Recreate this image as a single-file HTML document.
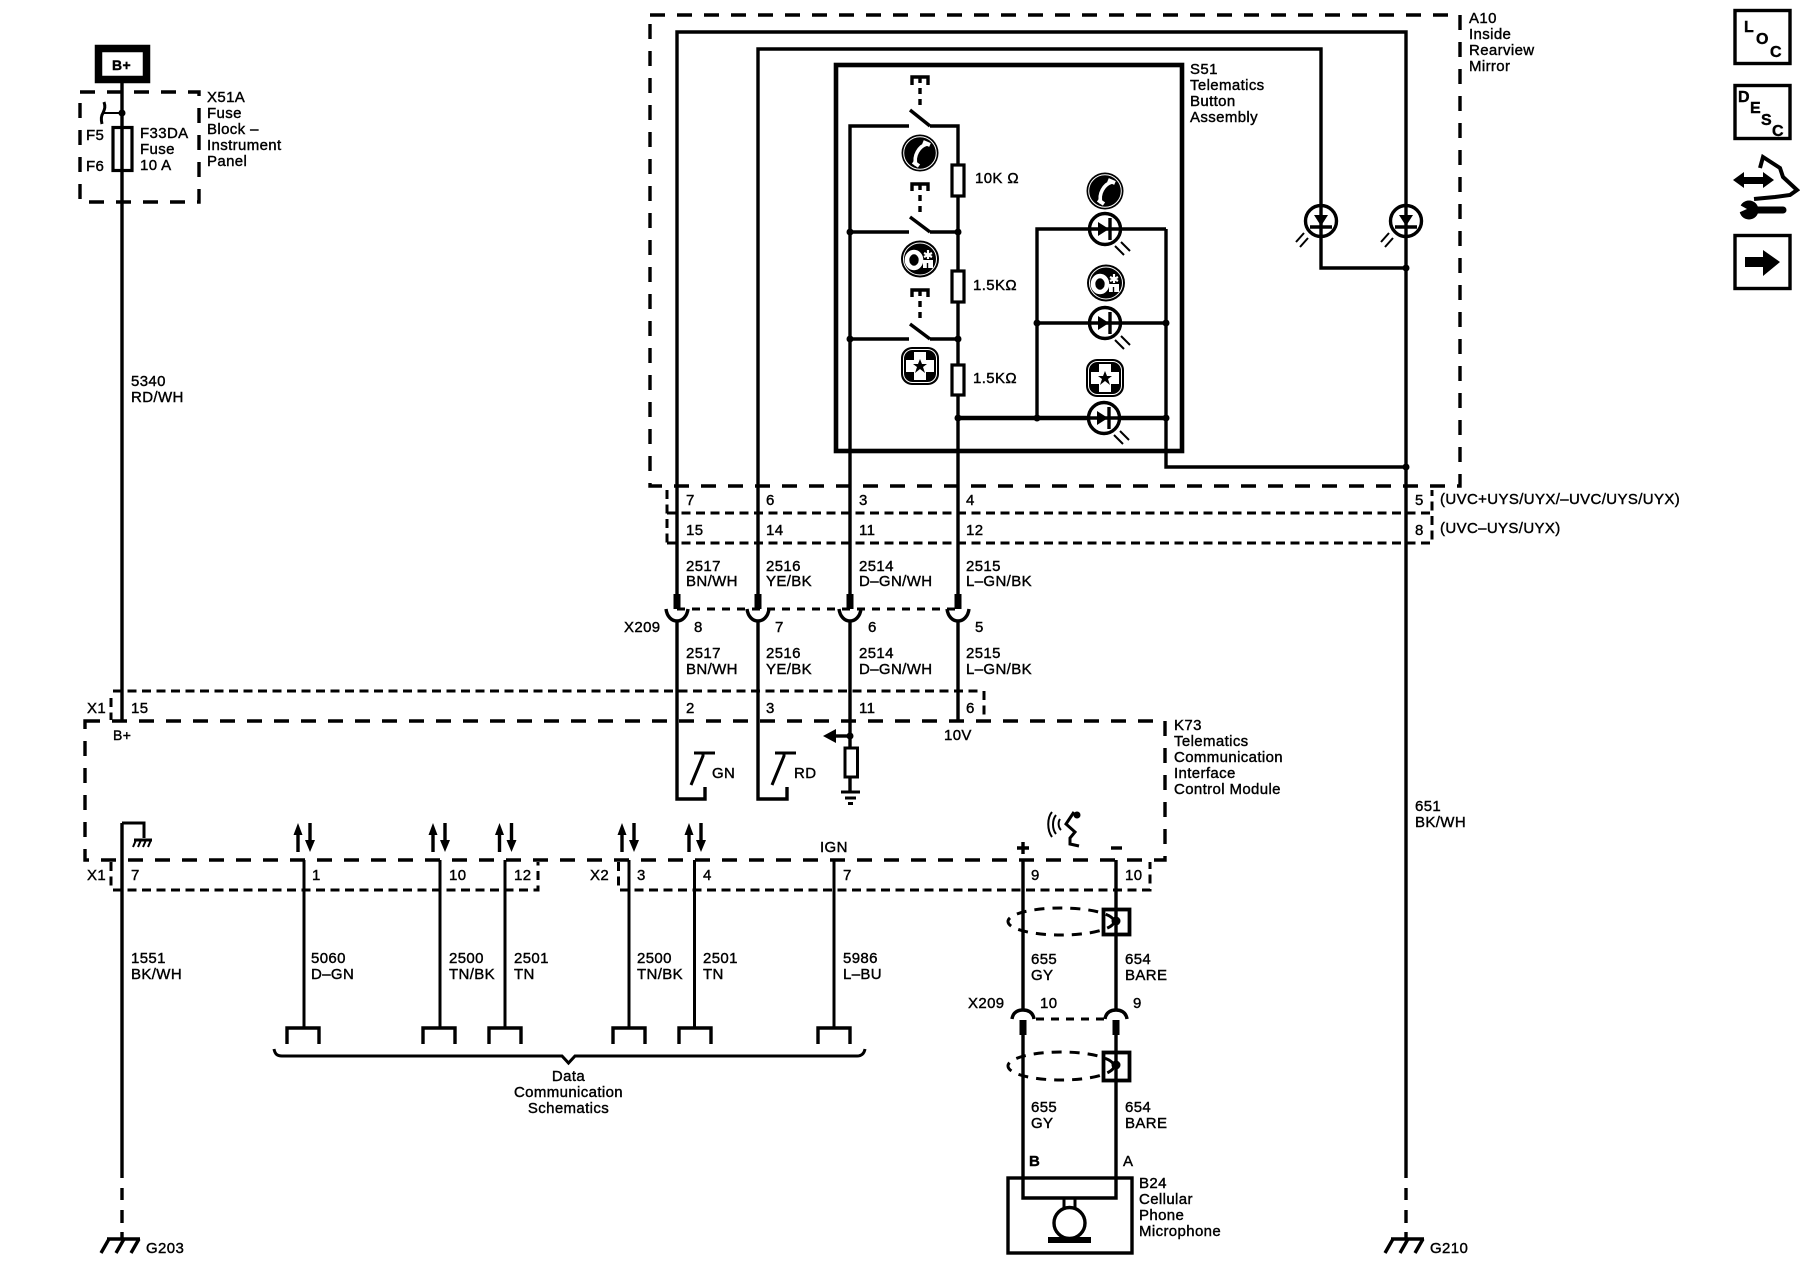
<!DOCTYPE html>
<html><head><meta charset="utf-8"><style>
html,body{margin:0;padding:0;background:#fff;width:1800px;height:1280px;overflow:hidden}
svg{display:block}
text{font-family:"Liberation Sans",sans-serif;font-size:15px;letter-spacing:.37px;fill:#000;stroke:#000;stroke-width:.4}
.w{fill:none;stroke:#000;stroke-width:3.4}
.t{fill:none;stroke:#000;stroke-width:3}
.d{fill:none;stroke:#000;stroke-width:3.4;stroke-dasharray:15 12}
.s{fill:none;stroke:#000;stroke-width:3;stroke-dasharray:9 5.5}
.r{fill:#fff;stroke:#000;stroke-width:3.2}
.n{fill:none;stroke:#000;stroke-width:2}
</style></head><body>
<svg width="1800" height="1280" viewBox="0 0 1800 1280" xmlns="http://www.w3.org/2000/svg">
<defs>
<g id="ledh"><circle r="15.5" fill="#fff" stroke="#000" stroke-width="3.4"/><path d="M-16 0H16" class="w"/><path d="M-7 -7L4 0L-7 7Z"/><path d="M5 -11V11" class="w"/><path d="M10 17L19 26M16 13L25 22" class="n"/></g>
<g id="ledv"><circle r="15.5" fill="#fff" stroke="#000" stroke-width="3.4"/><path d="M0 -16V16" class="w"/><path d="M-7 -6L0 5L7 -6Z"/><path d="M-11 6H11" class="w"/><path d="M-17 12L-25 21M-13 17L-21 26" class="n"/></g>
<g id="phone"><circle r="18.5"/><circle r="16.3" fill="none" stroke="#fff" stroke-width="1"/><path d="M7 -9C-1 -7 -7 3 -4 12" fill="none" stroke="#fff" stroke-width="3.6"/><path d="M3 -11L10 -8M-7 9L-1 13" stroke="#fff" stroke-width="4"/></g>
<g id="onstar"><ellipse rx="19" ry="18.5"/><ellipse rx="16.5" ry="16" fill="none" stroke="#fff" stroke-width="1"/><ellipse cx="-6" cy="1" rx="7" ry="8" fill="none" stroke="#fff" stroke-width="4.6"/><path d="M3 9V1H13V9Z" fill="#fff"/><path d="M7.500 9V4" stroke="#000" stroke-width="1.400"/><path d="M8 -9V0M4 -6L12 -2M12 -6L4 -2" stroke="#fff" stroke-width="2.200" fill="none"/></g>
<g id="star"><rect x="-19" y="-19" width="38" height="38" rx="11"/><rect x="-16.5" y="-16.5" width="33" height="33" rx="9" fill="none" stroke="#fff" stroke-width="1"/><path d="M-6 -14H6V-6H14V6H6V14H-6V6H-14V-6H-6Z" fill="#fff"/><path d="M0 -7L2 -2H7L3 1L5 7L0 3L-5 7L-3 1L-7 -2H-2Z"/></g>
<g id="gnd"><path d="M-15 0H18" class="w"/><path d="M-13 0L-21 14M2 0L-6 14M17 0L9 14" class="w"/></g>
<g id="cap"><path d="M-16 16V0H16V16" class="w"/></g>
<g id="ud"><path d="M-6 29V8" class="w"/><path d="M-6 0L-10.500 12H-1.500Z"/><path d="M6 0V20" class="w"/><path d="M1 17H11L6 29Z"/></g>
</defs>

<!-- top right nav -->
<rect x="1735" y="10.500" width="55" height="53" fill="none" stroke="#000" stroke-width="3.400"/>
<rect x="1735" y="85.500" width="55" height="53" fill="none" stroke="#000" stroke-width="3.400"/>
<rect x="1735" y="235.500" width="55" height="53" fill="none" stroke="#000" stroke-width="3.400"/>
<text x="1744" y="32" font-weight="bold" style="font-size:16px">L</text><text x="1756" y="44" font-weight="bold" style="font-size:16px">O</text><text x="1770" y="57" font-weight="bold" style="font-size:16px">C</text>
<text x="1738" y="102" font-weight="bold" style="font-size:16px">D</text><text x="1750" y="113" font-weight="bold" style="font-size:16px">E</text><text x="1761" y="125" font-weight="bold" style="font-size:16px">S</text><text x="1772" y="136" font-weight="bold" style="font-size:16px">C</text>
<path d="M1745 257H1763V250L1780 262L1763 276V267H1745Z"/>
<path d="M1733 180L1744 172V177H1763V172L1774 180L1763 188V184H1744V188Z"/>
<path d="M1760 168L1763 157L1780 168L1783 177L1797 190L1790 195L1775 197L1754 199" fill="none" stroke="#000" stroke-width="4"/>
<path d="M1752 210H1783" stroke="#000" stroke-width="7" stroke-linecap="round"/><circle cx="1749" cy="210" r="9.500"/><path d="M1738 204L1747 209L1738 213Z" fill="#fff"/>

<!-- left: B+ and fuse -->
<rect x="98.500" y="48.500" width="48" height="31" fill="none" stroke="#000" stroke-width="7.500"/>
<text x="112" y="70" font-weight="bold" style="font-size:14px">B+</text>
<path d="M122 83V720" class="w"/>
<path d="M122 823V1178" class="w"/>
<path d="M122 1188V1200M122 1210V1223M122 1232V1240" class="w"/>
<rect x="80" y="92" width="119" height="110" class="d"/>
<path d="M102 113H122" class="n"/><circle cx="122" cy="113" r="3.500"/><path d="M104 102C106 108 104 110 103 113C101 116 101 120 102 124" class="t"/>
<rect x="113" y="127.500" width="19" height="43" fill="none" stroke="#000" stroke-width="3.200"/>
<text x="86" y="140">F5</text><text x="86" y="171">F6</text>
<text x="140" y="138">F33DA</text><text x="140" y="154">Fuse</text><text x="140" y="170">10 A</text>
<text x="207" y="102">X51A</text><text x="207" y="118">Fuse</text><text x="207" y="134">Block –</text><text x="207" y="150">Instrument</text><text x="207" y="166">Panel</text>
<text x="131" y="386">5340</text><text x="131" y="402">RD/WH</text>

<!-- A10 -->
<rect x="650" y="15" width="810" height="471" class="d"/>
<text x="1469" y="23">A10</text><text x="1469" y="39">Inside</text><text x="1469" y="55">Rearview</text><text x="1469" y="71">Mirror</text>
<path d="M677 594V32H1406V1178" class="w"/>
<path d="M758 594V49H1321V268H1406" class="w"/>
<path d="M1406 1188V1200M1406 1210V1223M1406 1232V1240" class="w"/>
<circle cx="1406" cy="268" r="3.500"/>
<use href="#ledv" x="1321" y="221"/><use href="#ledv" x="1406" y="221"/>

<!-- S51 -->
<rect x="836" y="65" width="346" height="386" fill="none" stroke="#000" stroke-width="4.600"/>
<text x="1190" y="74">S51</text><text x="1190" y="90">Telematics</text><text x="1190" y="106">Button</text><text x="1190" y="122">Assembly</text>
<path d="M850 594V126H909M930 126H958V594" class="w"/>
<path d="M850 232H909M930 232H958M850 339H909M930 339H958" class="w"/>
<path d="M910 110L930 126M910 217L930 232M910 324L930 339" class="w"/>
<path d="M912 85V77H928V85M912 191V184H928V191M912 297V290H928V297" class="w"/>
<path d="M920 77V108M920 184V215M920 290V322" class="w" stroke-dasharray="6 5"/>
<g fill="#000"><circle cx="850" cy="232" r="3.500"/><circle cx="958" cy="232" r="3.500"/><circle cx="850" cy="339" r="3.500"/><circle cx="958" cy="339" r="3.500"/><circle cx="958" cy="418" r="3.500"/><circle cx="1037" cy="418" r="3.500"/><circle cx="1166" cy="418" r="3.500"/><circle cx="1037" cy="323" r="3.500"/><circle cx="1166" cy="323" r="3.500"/><circle cx="1406" cy="467" r="3.500"/></g>
<use href="#phone" x="920" y="153"/><use href="#onstar" x="920" y="259"/><use href="#star" x="920" y="366"/>
<rect x="952" y="165" width="12" height="31" class="r"/><rect x="952" y="271" width="12" height="31" class="r"/><rect x="952" y="365" width="12" height="30" class="r"/>
<text x="975" y="183">10K Ω</text><text x="973" y="290">1.5KΩ</text><text x="973" y="383">1.5KΩ</text>
<path d="M1166 229H1037V418M1037 323H1166M1166 229V467H1406" class="w"/>
<path d="M958 418H1166" fill="none" stroke="#000" stroke-width="4.600"/>
<use href="#ledh" x="1105" y="229"/><use href="#ledh" x="1105" y="323"/><use href="#ledh" x="1104" y="418"/>
<use href="#phone" x="1105" y="191"/><use href="#onstar" x="1106" y="283"/><use href="#star" x="1105" y="378"/>

<!-- connector rows -->
<path d="M667 490V543M667 543H1432V490M667 513H1432" class="s"/>
<text x="686" y="505">7</text><text x="766" y="505">6</text><text x="859" y="505">3</text><text x="966" y="505">4</text><text x="1415" y="505">5</text>
<text x="686" y="535">15</text><text x="766" y="535">14</text><text x="859" y="535">11</text><text x="966" y="535">12</text><text x="1415" y="535">8</text>
<text x="1440" y="504">(UVC+UYS/UYX/–UVC/UYS/UYX)</text><text x="1440" y="533">(UVC–UYS/UYX)</text>
<text x="686" y="571">2517</text><text x="686" y="586">BN/WH</text><text x="766" y="571">2516</text><text x="766" y="586">YE/BK</text><text x="859" y="571">2514</text><text x="859" y="586">D–GN/WH</text><text x="966" y="571">2515</text><text x="966" y="586">L–GN/BK</text>

<!-- X209 upper -->
<rect x="673.500" y="594" width="7" height="15"/><rect x="754.500" y="594" width="7" height="15"/><rect x="846.500" y="594" width="7" height="15"/><rect x="954.500" y="594" width="7" height="15"/>
<path d="M677 609H958" fill="none" stroke="#000" stroke-width="3" stroke-dasharray="8 7"/>
<path d="M666 609C667 617 672 621 677 621C682 621 687 617 688 609" class="w"/><path d="M747 609C748 617 753 621 758 621C763 621 768 617 769 609" class="w"/><path d="M839 609C840 617 845 621 850 621C855 621 860 617 861 609" class="w"/><path d="M947 609C948 617 953 621 958 621C963 621 968 617 969 609" class="w"/>
<text x="624" y="632">X209</text><text x="694" y="632">8</text><text x="775" y="632">7</text><text x="868" y="632">6</text><text x="975" y="632">5</text>
<text x="686" y="658">2517</text><text x="686" y="674">BN/WH</text><text x="766" y="658">2516</text><text x="766" y="674">YE/BK</text><text x="859" y="658">2514</text><text x="859" y="674">D–GN/WH</text><text x="966" y="658">2515</text><text x="966" y="674">L–GN/BK</text>

<!-- wires to K73 -->
<path d="M677 621V799H705V787" class="w"/><path d="M758 621V799H787V787" class="w"/>
<path d="M850 621V748M850 777V792" class="w"/><path d="M958 621V720" class="w"/>
<path d="M691 785L703 756V753M694 753H715" class="t"/>
<path d="M772 785L784 756V753M775 753H796" class="t"/>
<text x="712" y="778">GN</text><text x="794" y="778">RD</text>
<path d="M850 736H834" class="w"/><path d="M823 736L836 729V743Z"/><circle cx="850" cy="736" r="3.500"/>
<rect x="845" y="748" width="12.500" height="29" fill="#fff" stroke="#000" stroke-width="3"/>
<path d="M841 792H860M845 798H856M848 803.500H853" class="t"/>

<text x="87" y="713">X1</text><text x="131" y="713">15</text><text x="686" y="713">2</text><text x="766" y="713">3</text><text x="859" y="713">11</text><text x="966" y="713">6</text>
<path d="M111 698V720M984 691V720M113 691H982" class="s"/>

<!-- K73 -->
<rect x="85" y="721" width="1080" height="139" class="d"/>
<text x="113" y="740" style="font-size:14px">B+</text><text x="944" y="740">10V</text>
<text x="1174" y="730">K73</text><text x="1174" y="746">Telematics</text><text x="1174" y="762">Communication</text><text x="1174" y="778">Interface</text><text x="1174" y="794">Control Module</text>
<text x="820" y="852">IGN</text>

<!-- lower left -->
<path d="M122 823H144V838" class="t"/><path d="M134 840H152" class="t"/><path d="M136 840L133 847M141 840L138 847M146 840L143 847M151 840L148 847" class="n"/>
<use href="#ud" x="304" y="823"/><use href="#ud" x="439" y="823"/><use href="#ud" x="505.500" y="823"/><use href="#ud" x="628" y="823"/><use href="#ud" x="695" y="823"/>
<path d="M304 860V1027M440 860V1027M505 860V1027M629 860V1027M694.500 860V1027M834 860V1027" class="t"/>
<path d="M1023 860V1009M1116 860V1009" class="w"/>
<use href="#cap" x="303" y="1028"/><use href="#cap" x="439" y="1028"/><use href="#cap" x="505" y="1028"/><use href="#cap" x="629" y="1028"/><use href="#cap" x="695" y="1028"/><use href="#cap" x="834" y="1028"/>
<path d="M111 862V888M113 890H538V862" class="s"/>
<path d="M618.500 862V888M620 890H1150V862" class="s"/>
<text x="87" y="880">X1</text><text x="131" y="880">7</text><text x="312" y="880">1</text><text x="449" y="880">10</text><text x="514" y="880">12</text><text x="590" y="880">X2</text><text x="637" y="880">3</text><text x="703" y="880">4</text><text x="843" y="880">7</text><text x="1031" y="880">9</text><text x="1125" y="880">10</text>
<text x="131" y="963">1551</text><text x="131" y="979">BK/WH</text>
<text x="311" y="963">5060</text><text x="311" y="979">D–GN</text>
<text x="449" y="963">2500</text><text x="449" y="979">TN/BK</text>
<text x="514" y="963">2501</text><text x="514" y="979">TN</text>
<text x="637" y="963">2500</text><text x="637" y="979">TN/BK</text>
<text x="703" y="963">2501</text><text x="703" y="979">TN</text>
<text x="843" y="963">5986</text><text x="843" y="979">L–BU</text>
<path d="M274 1049C275 1054 277 1056 282 1056H562L568.500 1063L575 1056H857C861 1056 864 1054 865 1049" class="t"/>
<text x="568.500" y="1081" text-anchor="middle">Data</text><text x="568.500" y="1097" text-anchor="middle">Communication</text><text x="568.500" y="1113" text-anchor="middle">Schematics</text>

<!-- mic section -->
<path d="M1017 848H1029M1023 842V854" fill="none" stroke="#000" stroke-width="3.400"/><path d="M1111 848H1122" class="w"/>
<path d="M1061 830C1058 827 1058 822 1060 819M1056 834C1052 829 1052 820 1056 815M1052 837C1047 830 1047 818 1052 812" class="n"/>
<circle cx="1077" cy="815" r="3.500"/><path d="M1074 812L1066 824L1075 832L1070 838V844L1079 846" class="t"/>
<ellipse cx="1061" cy="921.500" rx="53" ry="13.500" fill="none" stroke="#000" stroke-width="3" stroke-dasharray="10 8"/>
<ellipse cx="1061" cy="1066" rx="53" ry="14" fill="none" stroke="#000" stroke-width="3" stroke-dasharray="10 8"/>
<rect x="1103.500" y="909.500" width="26" height="25" fill="none" stroke="#000" stroke-width="3.800"/><rect x="1103.500" y="1052.500" width="26" height="28" fill="none" stroke="#000" stroke-width="3.800"/>
<circle cx="1116" cy="921" r="4.500"/><circle cx="1116" cy="1065" r="4.500"/>
<text x="1031" y="964">655</text><text x="1031" y="980">GY</text><text x="1125" y="964">654</text><text x="1125" y="980">BARE</text>
<text x="968" y="1008">X209</text><text x="1040" y="1008">10</text><text x="1133" y="1008">9</text>
<path d="M1012 1019C1013 1012 1018 1010 1023 1010C1028 1010 1033 1012 1034 1019M1105 1019C1106 1012 1111 1010 1116 1010C1121 1010 1126 1012 1127 1019" class="w"/>
<path d="M1036 1019H1104" class="t" stroke-dasharray="8 7"/>
<rect x="1019.500" y="1020" width="7" height="15"/><rect x="1112.500" y="1020" width="7" height="15"/>
<path d="M1023 1035V1198H1116V1035" class="w"/>
<text x="1031" y="1112">655</text><text x="1031" y="1128">GY</text><text x="1125" y="1112">654</text><text x="1125" y="1128">BARE</text>
<text x="1029" y="1166" font-weight="bold">B</text><text x="1123" y="1166">A</text>
<rect x="1008" y="1178" width="124" height="75" class="w"/>
<path d="M1064 1198V1209M1075 1198V1209" class="t"/>
<circle cx="1069.500" cy="1223" r="15.500" fill="#fff" stroke="#000" stroke-width="3.400"/>
<rect x="1048" y="1237" width="43" height="6"/>
<text x="1139" y="1188">B24</text><text x="1139" y="1204">Cellular</text><text x="1139" y="1220">Phone</text><text x="1139" y="1236">Microphone</text>

<!-- far right wire label & grounds -->
<text x="1415" y="811">651</text><text x="1415" y="827">BK/WH</text>
<use href="#gnd" x="122" y="1239"/><use href="#gnd" x="1406" y="1239"/>
<text x="146" y="1253">G203</text><text x="1430" y="1253">G210</text>
</svg>
</body></html>
